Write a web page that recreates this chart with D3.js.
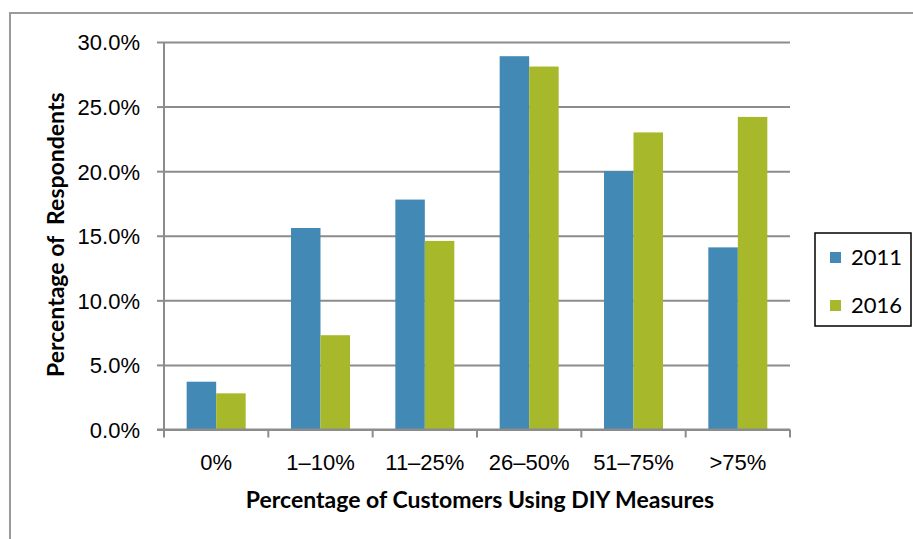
<!DOCTYPE html>
<html lang="en">
<head>
<meta charset="UTF-8">
<script src="https://d3js.org/d3.v7.min.js"></script>
<style>
  body { margin: 0; background: #fff; }
  svg { font-family: Lato, "Open Sans", sans-serif; }
  .tick text { font-size: 22px; fill: #000; }
  .axis-title { font-size: 23px; font-weight: bold; }
</style>
</head>
<body>
<svg id="chart" width="913" height="539"></svg>
<script>

const categories = ['0%', '1–10%', '11–25%', '26–50%', '51–75%', '>75%']
const series = ['2011', '2016']
const values2011 = [3.7, 15.6, 17.8, 28.9, 20.0, 14.1]
const values2016 = [2.8, 7.3, 14.6, 28.1, 23.0, 24.2]
const yTicks = [0, 5, 10, 15, 20, 25, 30]

const colors = {'2011': '#428ab5', '2016': '#a7b92b'}
const gridColor = '#8c8c8c'

let margin = {top: 42, right: 123, bottom: 109.5, left: 164},
    W = 913,
    H = 539,
    width = W - margin.left - margin.right,
    height = H - margin.top - margin.bottom

let svg = d3.select('#chart')

// outer chart border (runs off the right and bottom edges)
svg.append('rect')
    .attr('x', 10)
    .attr('y', 13)
    .attr('width', 920)
    .attr('height', 560)
    .attr('fill', 'none')
    .attr('stroke', '#9a9a9a')
    .attr('stroke-width', 2)

let g = svg.append('g')
    .attr('transform', `translate(${margin.left},${margin.top})`)

let x = d3.scaleBand()
    .domain(categories)
    .range([0, width])

let y = d3.scaleLinear()
    .domain([0, 30])
    .range([height, 0])

// gridlines
g.append('g')
    .attr('class', 'grid')
    .call(d3.axisLeft(y).tickValues(yTicks).tickSize(-width).tickFormat(''))
    .call(g => g.select('.domain').remove())
    .call(g => g.selectAll('line')
        .attr('stroke', gridColor).attr('stroke-width', 2))

// bars
let data = categories.map((c, i) => ({cat: c, vals: [
    {key: '2011', v: values2011[i]},
    {key: '2016', v: values2016[i]}]}))

let barW = 29.5
let groups = g.selectAll('.grp')
  .data(data)
  .join('g')
    .attr('class', 'grp')
    .attr('transform', d => `translate(${x(d.cat) + x.bandwidth() / 2 - barW},0)`)

groups.selectAll('rect')
  .data(d => d.vals)
  .join('rect')
    .attr('x', (d, i) => i * barW)
    .attr('y', d => y(d.v))
    .attr('width', barW)
    .attr('height', d => y(0) - y(d.v))
    .attr('fill', d => colors[d.key])

// y axis
g.append('g')
    .attr('class', 'y-axis')
    .call(d3.axisLeft(y).tickValues(yTicks).tickSize(7).tickPadding(17)
        .tickFormat(d => d.toFixed(1) + '%'))
    .call(g => g.select('.domain').attr('stroke', gridColor).attr('stroke-width', 2)
        .attr('d', `M0,${height + 7}V0`))
    .call(g => g.selectAll('.tick line').attr('stroke', gridColor).attr('stroke-width', 2))
    .call(g => g.selectAll('.tick text').attr('dy', '0.36em'))

// x axis
let xAxis = g.append('g')
    .attr('class', 'x-axis')
    .attr('transform', `translate(0,${height})`)
    .call(d3.axisBottom(x).tickSize(0).tickPadding(40))
    .call(g => g.select('.domain').attr('stroke', gridColor).attr('stroke-width', 2)
        .attr('d', `M-7,0H${width}`))
    .call(g => g.selectAll('.tick text').attr('dy', '0'))

// category boundary ticks
xAxis.selectAll('.sep')
  .data(d3.range(categories.length + 1))
  .join('line')
    .attr('class', 'sep')
    .attr('x1', i => i * x.step())
    .attr('x2', i => i * x.step())
    .attr('y1', 0)
    .attr('y2', 8)
    .attr('stroke', gridColor)
    .attr('stroke-width', 2)

// axis titles
svg.append('text')
    .attr('class', 'axis-title')
    .attr('x', margin.left + width / 2 + 3)
    .attr('y', 508)
    .attr('text-anchor', 'middle')
    .text('Percentage of Customers Using DIY Measures')

svg.append('text')
    .attr('class', 'axis-title')
    .attr('transform', `translate(64,${margin.top + height / 2 - 1}) rotate(-90)`)
    .attr('text-anchor', 'middle')
    .style('white-space', 'pre')
    .text('Percentage of  Respondents')

// legend
let legend = svg.append('g')
    .attr('transform', 'translate(815,233)')

legend.append('rect')
    .attr('width', 96)
    .attr('height', 93)
    .attr('fill', '#fff')
    .attr('stroke', '#000')
    .attr('stroke-width', 1.5)

let items = legend.selectAll('.item')
  .data(series)
  .join('g')
    .attr('class', 'item')
    .attr('transform', (d, i) => `translate(15,${24.5 + i * 48})`)

items.append('rect')
    .attr('y', -5.5)
    .attr('width', 11)
    .attr('height', 11)
    .attr('fill', d => colors[d])

items.append('text')
    .attr('x', 21)
    .attr('dy', '0.36em')
    .style('font-size', '22px')
    .text(d => d)

</script>
</body>
</html>
